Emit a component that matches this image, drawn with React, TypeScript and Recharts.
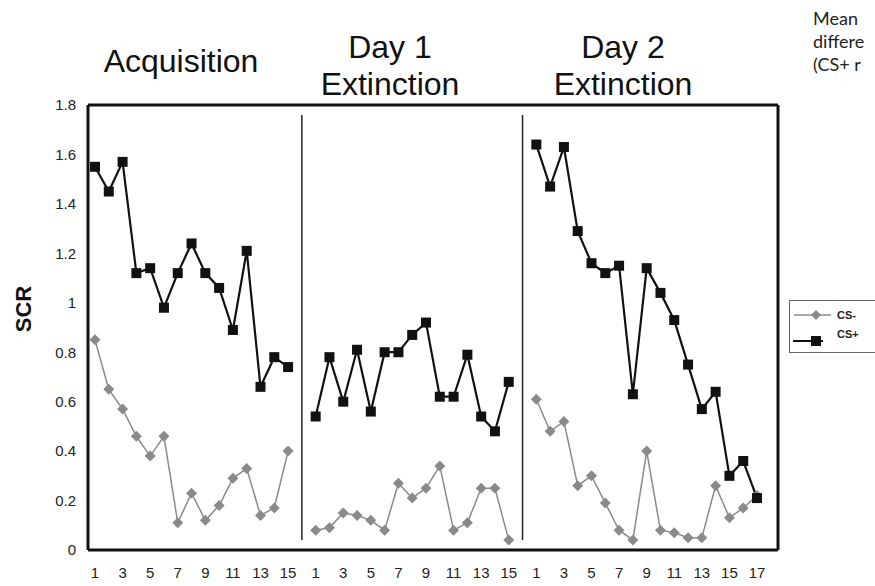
import { LineChart, Line, XAxis, YAxis, ReferenceLine, Legend } from 'recharts';

const FONT = '"Liberation Sans", Arial, sans-serif';

// SCR per trial
const acqCsPlus = [1.55, 1.45, 1.57, 1.12, 1.14, 0.98, 1.12, 1.24, 1.12, 1.06, 0.89, 1.21, 0.66, 0.78, 0.74];
const acqCsMinus = [0.85, 0.65, 0.57, 0.46, 0.38, 0.46, 0.11, 0.23, 0.12, 0.18, 0.29, 0.33, 0.14, 0.17, 0.4];
const ext1CsPlus = [0.54, 0.78, 0.6, 0.81, 0.56, 0.8, 0.8, 0.87, 0.92, 0.62, 0.62, 0.79, 0.54, 0.48, 0.68];
const ext1CsMinus = [0.08, 0.09, 0.15, 0.14, 0.12, 0.08, 0.27, 0.21, 0.25, 0.34, 0.08, 0.11, 0.25, 0.25, 0.04];
const ext2CsPlus = [1.64, 1.47, 1.63, 1.29, 1.16, 1.12, 1.15, 0.63, 1.14, 1.04, 0.93, 0.75, 0.57, 0.64, 0.3, 0.36, 0.21];
const ext2CsMinus = [0.61, 0.48, 0.52, 0.26, 0.3, 0.19, 0.08, 0.04, 0.4, 0.08, 0.07, 0.05, 0.05, 0.26, 0.13, 0.17, 0.22];

const yTicks = [0, 0.2, 0.4, 0.6, 0.8, 1, 1.2, 1.4, 1.6, 1.8];

// note at the top right, cut by the edge of the figure in the source
const noteLines = ['Mean', 'differe', '(CS+ r'];

const phases = [
  { id: 'acq', plus: acqCsPlus, minus: acqCsMinus },
  { id: 'ext1', plus: ext1CsPlus, minus: ext1CsMinus },
  { id: 'ext2', plus: ext2CsPlus, minus: ext2CsMinus },
];

type Row = { key: string; trial: number | null; csPlus: number | null; csMinus: number | null };

const rows: Row[] = [];
phases.forEach((p, pi) => {
  if (pi > 0) rows.push({ key: `gap${pi}`, trial: null, csPlus: null, csMinus: null });
  p.plus.forEach((v, i) => rows.push({ key: `${p.id}-${i + 1}`, trial: i + 1, csPlus: v, csMinus: p.minus[i] }));
});

const trialOf: Record<string, number | null> = Object.fromEntries(rows.map((r) => [r.key, r.trial]));
const xTicks = rows.filter((r) => r.trial !== null && r.trial % 2 === 1).map((r) => r.key);

const Square = (props: any) => {
  const { cx, cy, index } = props;
  if (cx == null || cy == null) return <g key={`sq-${index}`} />;
  return <rect key={`sq-${index}`} x={cx - 5} y={cy - 5} width={10} height={10} fill="#111" />;
};

const Diamond = (props: any) => {
  const { cx, cy, index } = props;
  if (cx == null || cy == null) return <g key={`dm-${index}`} />;
  const r = 5.5;
  return (
    <polygon
      key={`dm-${index}`}
      points={`${cx},${cy - r} ${cx + r},${cy} ${cx},${cy + r} ${cx - r},${cy}`}
      fill="#8a8a8a"
    />
  );
};

const LegendBox = () => (
  <svg width={100} height={54} style={{ display: 'block' }}>
    <rect x={0.5} y={0.5} width={110} height={52} fill="#fff" stroke="#666" strokeWidth={1} />
    <line x1={5} y1={15} x2={42} y2={15} stroke="#8a8a8a" strokeWidth={1.5} />
    <polygon points="27,10 32,15 27,20 22,15" fill="#8a8a8a" />
    <text x={48} y={19} fontFamily={FONT} fontSize={11} fontWeight="bold" fill="#222">CS-</text>
    <line x1={4} y1={41} x2={34} y2={41} stroke="#111" strokeWidth={2} />
    <rect x={22} y={36} width={10} height={10} fill="#111" />
    <text x={48} y={38} fontFamily={FONT} fontSize={11} fontWeight="bold" fill="#222">CS+</text>
  </svg>
);

const titleStyle: React.CSSProperties = {
  position: 'absolute',
  width: 240,
  textAlign: 'center',
  fontFamily: FONT,
  fontSize: 32,
  lineHeight: '37px',
  color: '#111',
};

export default function App() {
  return (
    <div style={{ position: 'absolute', left: 0, top: 0, width: 875, height: 586, overflow: 'hidden', background: '#fff' }}>
      <LineChart width={875} height={586} data={rows} margin={{ top: 104, right: 96, bottom: 0, left: 0 }}>
        <XAxis
          dataKey="key"
          ticks={xTicks}
          interval={0}
          tickFormatter={(k) => String(trialOf[k] ?? '')}
          height={36}
          padding={{ left: 7, right: 21 }}
          axisLine={{ stroke: '#111', strokeWidth: 3 }}
          tickLine={false}
          tickSize={6}
          tickMargin={11}
          tick={{ fontSize: 15, fill: '#222', fontFamily: FONT }}
        />
        <XAxis
          xAxisId="top"
          orientation="top"
          dataKey="key"
          height={1}
          padding={{ left: 7, right: 21 }}
          axisLine={{ stroke: '#111', strokeWidth: 3 }}
          tick={false}
          tickLine={false}
        />
        <YAxis
          domain={[0, 1.8]}
          ticks={yTicks}
          interval={0}
          width={88}
          tickFormatter={(v) => String(v)}
          axisLine={{ stroke: '#111', strokeWidth: 3 }}
          tickLine={false}
          tickSize={6}
          tickMargin={6}
          tick={{ fontSize: 15, fill: '#222', fontFamily: FONT }}
        />
        <YAxis
          yAxisId="right"
          orientation="right"
          domain={[0, 1.8]}
          width={1}
          axisLine={{ stroke: '#111', strokeWidth: 3 }}
          tick={false}
          tickLine={false}
        />
        <ReferenceLine
          segment={[{ x: 'gap1', y: 0.04 }, { x: 'gap1', y: 1.76 }]}
          stroke="#222"
          strokeWidth={1.5}
        />
        <ReferenceLine
          segment={[{ x: 'gap2', y: 0.04 }, { x: 'gap2', y: 1.76 }]}
          stroke="#222"
          strokeWidth={1.5}
        />
        <Line
          dataKey="csMinus"
          stroke="#8a8a8a"
          strokeWidth={1.5}
          dot={Diamond}
          activeDot={false}
          connectNulls={false}
          isAnimationActive={false}
        />
        <Line
          dataKey="csPlus"
          stroke="#111"
          strokeWidth={2.2}
          dot={Square}
          activeDot={false}
          connectNulls={false}
          isAnimationActive={false}
        />
        <Legend
          layout="vertical"
          align="center"
          verticalAlign="middle"
          content={LegendBox}
          wrapperStyle={{ left: 789, top: 300, width: 100 }}
        />
      </LineChart>

      <div style={{ ...titleStyle, left: 61, top: 45, lineHeight: '32px' }}>Acquisition</div>
      <div style={{ ...titleStyle, left: 270, top: 29 }}>
        Day 1
        <br />
        Extinction
      </div>
      <div style={{ ...titleStyle, left: 503, top: 29 }}>
        Day 2
        <br />
        Extinction
      </div>

      <div
        style={{
          position: 'absolute',
          left: 24,
          top: 309,
          transform: 'translate(-50%, -50%) rotate(-90deg)',
          fontFamily: FONT,
          fontWeight: 'bold',
          fontSize: 22,
          color: '#111',
          whiteSpace: 'nowrap',
        }}
      >
        SCR
      </div>

      <div
        style={{
          position: 'absolute',
          left: 813,
          top: 7,
          fontFamily: 'Lato, "Open Sans", sans-serif',
          fontSize: 18,
          lineHeight: '23px',
          color: '#222',
          whiteSpace: 'nowrap',
        }}
      >
        {noteLines.map((t) => (
          <div key={t}>{t}</div>
        ))}
      </div>
    </div>
  );
}
